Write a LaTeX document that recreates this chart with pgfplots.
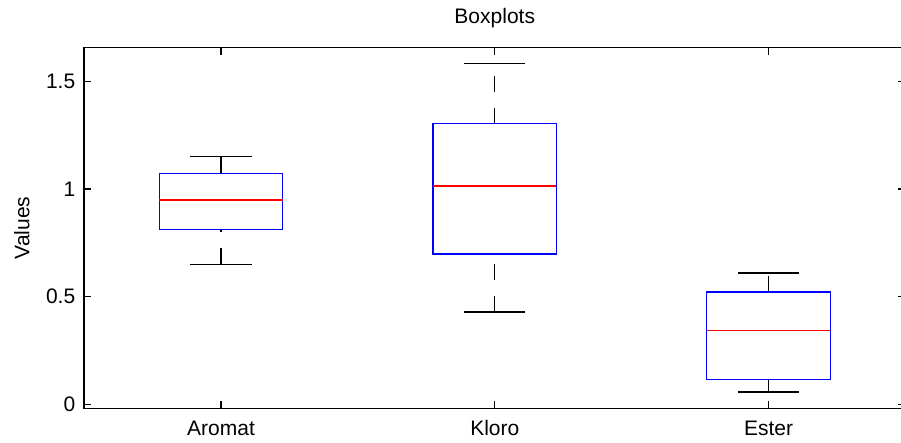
\documentclass[border=0pt]{standalone}
\usepackage{fontspec}
\setmainfont{Liberation Sans}
\usepackage{pgfplots}
\pgfplotsset{compat=1.18}
\usepgfplotslibrary{statistics}
\begin{document}
\begin{tikzpicture}
\begin{axis}[
  at={(0,0)}, anchor=south west,
  scale only axis,
  width=616pt, height=270.45pt,
  xmin=0.5, xmax=3.5,
  ymin=-0.0176, ymax=1.656,
  xtick={1,2,3},
  xticklabels={Aromat,Kloro,Ester},
  ytick={0,0.5,1,1.5},
  yticklabels={0,0.5,1,1.5},
  tick align=inside,
  tick pos=both,
  major tick length=5.5pt,
  minor tick num=0,
  tick style={black, line width=0.8pt},
  axis line style={black, line width=1.1pt},
  /pgf/number format/assume math mode=true,
  tick label style={font=\fontsize{15.75}{18}\selectfont, inner sep=0pt},
  xticklabel style={anchor=base, yshift=-20.8pt},
  yticklabel style={anchor=east, xshift=-6.45pt},
  title={Boxplots},
  title style={font=\fontsize{15.75}{18}\selectfont, at={(axis description cs:0.5,1)}, anchor=base, yshift=12pt, inner sep=0pt},
  ylabel={Values},
  ylabel style={font=\fontsize{15.75}{18}\selectfont, at={(axis description cs:-0.0667,0.5)}, anchor=base, rotate=0, inner sep=0pt},
  boxplot/draw direction=y,
  boxplot/draw/box/.code={%
    \draw[draw=blue, line width=0.95pt]
      (boxplot box cs:\pgfplotsboxplotvalue{lower quartile},0)
      rectangle
      (boxplot box cs:\pgfplotsboxplotvalue{upper quartile},1);
  },
  boxplot/draw/median/.code={%
    \draw[draw=red, color=red, line width=0.95pt]
      (boxplot box cs:\pgfplotsboxplotvalue{median},0)
      --
      (boxplot box cs:\pgfplotsboxplotvalue{median},1);
  },
  boxplot/draw/lower whisker/.code={%
    \draw[black, line width=0.95pt, dash pattern=on 12pt off 12pt]
      (boxplot box cs:\pgfplotsboxplotvalue{lower whisker},0.5)
      --
      (boxplot box cs:\pgfplotsboxplotvalue{lower quartile},0.5);
    \draw[black, line width=0.95pt]
      (boxplot whisker cs:\pgfplotsboxplotvalue{lower whisker},0)
      --
      (boxplot whisker cs:\pgfplotsboxplotvalue{lower whisker},1);
  },
  boxplot/draw/upper whisker/.code={%
    \draw[black, line width=0.95pt, dash pattern=on 12pt off 12pt]
      (boxplot box cs:\pgfplotsboxplotvalue{upper quartile},0.5)
      --
      (boxplot box cs:\pgfplotsboxplotvalue{upper whisker},0.5);
    \draw[black, line width=0.95pt]
      (boxplot whisker cs:\pgfplotsboxplotvalue{upper whisker},0)
      --
      (boxplot whisker cs:\pgfplotsboxplotvalue{upper whisker},1);
  },
]
\addplot[blue, boxplot prepared={draw position=1,
  lower whisker=0.651, lower quartile=0.813, median=0.949,
  upper quartile=1.073, upper whisker=1.150,
  box extend=0.451, whisker extend=0.223}] coordinates {};
\addplot[blue, boxplot prepared={draw position=2,
  lower whisker=0.429, lower quartile=0.698, median=1.014,
  upper quartile=1.303, upper whisker=1.582,
  box extend=0.451, whisker extend=0.223}] coordinates {};
\addplot[blue, boxplot prepared={draw position=3,
  lower whisker=0.058, lower quartile=0.117, median=0.342,
  upper quartile=0.522, upper whisker=0.610,
  box extend=0.451, whisker extend=0.223}] coordinates {};
\end{axis}
\pgfresetboundingbox
\useasboundingbox (-63.1pt,-26.0pt) rectangle (612.7pt,306.2pt);
\end{tikzpicture}
\end{document}
